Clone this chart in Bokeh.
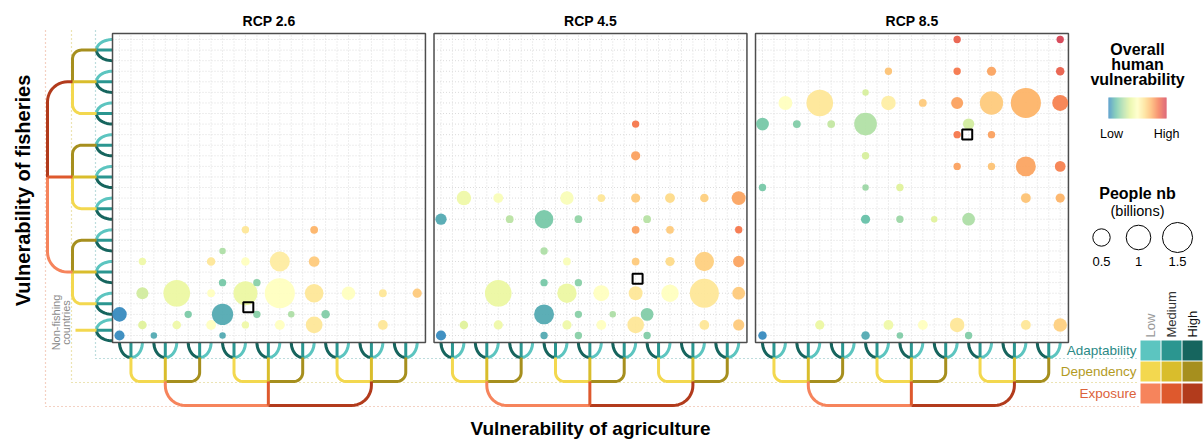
import numpy as np
from bokeh.plotting import figure
from bokeh.models import Range1d, Label, ColumnDataSource
from bokeh.transform import linear_cmap
from bokeh.embed import file_html
from bokeh.resources import INLINE

# ---------------- data ----------------
scenarios = ["RCP 2.6", "RCP 4.5", "RCP 8.5"]
levels = ["Low", "Medium", "High"]
dimensions = ["Adaptability", "Dependency", "Exposure"]
size_ticks = [0.5, 1, 1.5]
size_tick_labels = ["0.5", "1", "1.5"]

# agriculture leaf (column), fisheries leaf (row), people (billions), overall vulnerability (0 low .. 1 high)
rcp26_agri = [0, 0, 2, 2, 2, 3, 5, 5, 6, 8, 8, 8, 9, 9, 9, 9, 11, 11, 11, 11, 12, 12, 14, 14, 14, 15, 17, 17, 17, 17, 18, 20, 23, 23, 26]
rcp26_fish = [2, 0, 7, 4, 1, 0, 4, 1, 2, 7, 4, 1, 8, 5, 2, 0, 10, 7, 4, 1, 5, 2, 7, 4, 1, 2, 10, 7, 4, 1, 2, 4, 4, 1, 4]
rcp26_people = [0.35, 0.17, 0.09, 0.24, 0.12, 0.07, 1.17, 0.12, 0.09, 0.12, 0.10, 0.16, 0.07, 0.09, 0.75, 0.07, 0.09, 0.12, 0.95, 0.09,
                0.09, 0.09, 0.66, 1.50, 0.16, 0.07, 0.10, 0.19, 0.57, 0.46, 0.12, 0.30, 0.10, 0.16, 0.14]
rcp26_vuln = [0.0, 0.0, 0.42, 0.33, 0.36, 0.07, 0.40, 0.42, 0.16, 0.60, 0.50, 0.50, 0.25, 0.15, 0.07, 0.07, 0.60, 0.50, 0.40, 0.42,
              0.18, 0.18, 0.58, 0.50, 0.50, 0.25, 0.74, 0.68, 0.60, 0.60, 0.17, 0.50, 0.60, 0.60, 0.68]

rcp45_agri = [0, 0, 2, 2, 5, 5, 5, 6, 9, 9, 9, 9, 9, 11, 11, 11, 11, 12, 12, 12, 12, 14, 14, 14, 15, 17, 17, 17, 17, 17, 17, 17,
              18, 18, 18, 20, 20, 20, 20, 23, 23, 23, 23, 26, 26, 26, 26, 26]
rcp45_fish = [11, 0, 13, 1, 13, 4, 1, 11, 11, 8, 5, 2, 0, 13, 7, 4, 1, 11, 5, 2, 0, 13, 4, 1, 2, 20, 17, 13, 10, 7, 4, 1,
              11, 2, 0, 13, 10, 7, 4, 13, 7, 4, 1, 13, 10, 7, 4, 1]
rcp45_people = [0.21, 0.17, 0.35, 0.12, 0.16, 1.17, 0.14, 0.10, 0.57, 0.09, 0.09, 0.66, 0.09, 0.30, 0.10, 0.62, 0.14, 0.10, 0.09, 0.09,
                0.09, 0.10, 0.42, 0.16, 0.07, 0.09, 0.14, 0.14, 0.10, 0.10, 0.32, 0.46, 0.10, 0.27, 0.09, 0.16, 0.10, 0.14, 0.50, 0.12,
                0.62, 1.40, 0.16, 0.32, 0.09, 0.21, 0.27, 0.21]
rcp45_vuln = [0.07, 0.0, 0.42, 0.36, 0.47, 0.40, 0.42, 0.28, 0.15, 0.25, 0.15, 0.07, 0.07, 0.47, 0.47, 0.40, 0.42, 0.20, 0.18, 0.18,
              0.18, 0.60, 0.50, 0.50, 0.25, 0.86, 0.78, 0.68, 0.78, 0.68, 0.60, 0.60, 0.27, 0.17, 0.17, 0.64, 0.68, 0.64, 0.50, 0.67,
              0.67, 0.60, 0.60, 0.77, 0.86, 0.77, 0.68, 0.68]

rcp85_agri = [17, 26, 11, 17, 20, 26, 9, 2, 5, 11, 14, 17, 20, 23, 26, 0, 3, 6, 9, 18, 17, 20, 9, 17, 20, 23, 26, 0, 9, 12,
              23, 26, 9, 12, 15, 18, 5, 11, 14, 17, 23, 26, 0, 9, 12, 18]
rcp85_fish = [28, 28, 25, 25, 25, 25, 23, 22, 22, 22, 22, 22, 22, 22, 22, 20, 20, 20, 20, 20, 19, 19, 17, 16, 16, 16, 16, 14, 14, 14,
              13, 13, 11, 11, 11, 11, 1, 1, 1, 1, 1, 1, 0, 0, 0, 0]
rcp85_people = [0.09, 0.09, 0.09, 0.09, 0.14, 0.12, 0.07, 0.32, 1.17, 0.35, 0.10, 0.24, 0.90, 1.50, 0.42, 0.27, 0.10, 0.10, 0.85, 0.21,
                0.09, 0.09, 0.09, 0.09, 0.09, 0.66, 0.19, 0.09, 0.07, 0.09, 0.16, 0.14, 0.14, 0.09, 0.07, 0.27, 0.14, 0.16, 0.16, 0.35,
                0.16, 0.30, 0.12, 0.12, 0.07, 0.09]
rcp85_vuln = [0.92, 1.0, 0.70, 0.86, 0.77, 0.92, 0.34, 0.50, 0.60, 0.57, 0.68, 0.78, 0.68, 0.74, 0.84, 0.15, 0.17, 0.30, 0.26, 0.33,
              0.86, 0.78, 0.34, 0.78, 0.70, 0.77, 0.84, 0.15, 0.22, 0.36, 0.70, 0.74, 0.12, 0.22, 0.36, 0.25, 0.40, 0.42, 0.50, 0.60,
              0.60, 0.67, 0.0, 0.07, 0.17, 0.17]

highlight_agri = [11.25, 17.17, 17.88]
highlight_fish = [2.68, 5.36, 19.02]

panels = [(rcp26_agri, rcp26_fish, rcp26_people, rcp26_vuln),
          (rcp45_agri, rcp45_fish, rcp45_people, rcp45_vuln),
          (rcp85_agri, rcp85_fish, rcp85_people, rcp85_vuln)]

# ---------------- styles ----------------
FONT = "Liberation Sans"
ADAPT = ["#5cc5c0", "#2b9690", "#16655e"]   # low, medium, high
DEPEND = ["#f3d84f", "#d9bd2c", "#a68f1e"]
EXPO = ["#f6845c", "#de592d", "#b23b1c"]
anchors = ["#3288bd", "#66c2a5", "#abdda4", "#e6f598", "#ffffbf", "#fee08b", "#fdae61", "#f46d43", "#d53e4f"]


def hex2rgb(h):
    return np.array([int(h[i:i + 2], 16) for i in (1, 3, 5)], float)


A = np.array([hex2rgb(c) for c in anchors])
pal = []
for tt in np.linspace(0, len(anchors) - 1, 256):
    i = min(int(tt), len(anchors) - 2)
    f = tt - i
    c = A[i] * (1 - f) + A[i + 1] * f
    pal.append("#%02x%02x%02x" % tuple(int(round(v)) for v in c))

# ---------------- geometry ----------------
W, H = 1204, 439
PXX, PXY = 11.45, 10.57          # pixels per agriculture column / fisheries row
OX, OY = 119.0, 335.0            # page pixel of column 0 / row 0 (first panel)
PANEL_PX = 321.5                 # horizontal step between panels in pixels
OFF = PANEL_PX / PXX
X0 = -OX / PXX
Y0 = (OY - H) / PXY


def dx(px):
    return (np.asarray(px, float) - OX) / PXX


def dy(py):
    return (OY - np.asarray(py, float)) / PXY


def pxc(col):
    return OX + col * PXX


def pyr(row):
    return OY - row * PXY


p = figure(width=W, height=H, x_range=Range1d(X0, X0 + W / PXX), y_range=Range1d(Y0, Y0 + H / PXY),
           output_backend="svg", toolbar_location=None, x_axis_location=None, y_axis_location=None,
           min_border=0, min_border_left=0, min_border_right=0, min_border_top=0, min_border_bottom=0)
p.grid.visible = False
p.outline_line_color = None
p.background_fill_color = "white"
p.border_fill_color = "white"

FL, FR = -0.61, 26.72
FT, FB = float(dy(33)), float(dy(342))

# grid
gx, gy = [], []
for k in range(3):
    for c in range(27):
        gx.append([c + k * OFF, c + k * OFF]); gy.append([FB, FT])
    for r in range(29):
        gx.append([FL + k * OFF, FR + k * OFF]); gy.append([r, r])
p.multi_line(gx, gy, line_color="#dcdcdc", line_width=1, line_dash="1 2")

# dotted guide lines
guides = [([95, 95, 1139], [30, 358, 358], "#7fbcbc"),
          ([71, 71, 1139], [30, 382, 382], "#d9c968"),
          ([45, 45, 1139], [30, 406, 406], "#e9a488")]
for gxp, gyp, col in guides:
    p.line(dx(gxp), dy(gyp), line_color=col, line_width=1.2, line_dash="1 3")

# dendrogram paths (in page pixels, then converted)
segs = []


def add(xs, ys, col):
    segs.append((list(dx(xs)), list(dy(ys)), col))


def corner(p0, pc, p1, r, n=12):
    p0, pc, p1 = (np.array(v, float) for v in (p0, pc, p1))
    d1 = (pc - p0) / np.linalg.norm(pc - p0)
    d2 = (p1 - pc) / np.linalg.norm(p1 - pc)
    a = pc - d1 * r
    cc = a + d2 * r
    pts = [p0] + [cc - d2 * r * np.cos(t) + d1 * r * np.sin(t) for t in np.linspace(0, np.pi / 2, n)] + [p1]
    return [q[0] for q in pts], [q[1] for q in pts]


phi_a = np.linspace(0, np.pi / 2, 14)
phi_b = np.linspace(np.pi / 2, np.pi, 14)

# bottom tridents + brackets
YT, YA, YD, YE = 342, 357, 381, 405
for k in range(3):
    sh = k * PANEL_PX
    for t in range(9):
        cx = pxc(3 * t + 1) + sh
        add(cx + PXX * np.cos(phi_b), YT + (YA - YT) * np.sin(phi_b), ADAPT[2])
        add(cx + PXX * np.cos(phi_a), YT + (YA - YT) * np.sin(phi_a), ADAPT[0])
        add([cx, cx], [YT, YA], ADAPT[1])
    for g in range(3):
        x0, x1, x2 = (pxc(9 * g + j) + sh for j in (1, 4, 7))
        xs, ys = corner((x0, YA), (x0, YD), (x1, YD), 9); add(xs, ys, DEPEND[0])
        xs, ys = corner((x2, YA), (x2, YD), (x1, YD), 9); add(xs, ys, DEPEND[2])
        add([x1, x1], [YA, YD], DEPEND[1])
    xa, xb, xc = (pxc(c) + sh for c in (4, 13, 22))
    xs, ys = corner((xa, YD), (xa, YE), (xb, YE), 20); add(xs, ys, EXPO[0])
    xs, ys = corner((xc, YD), (xc, YE), (xb, YE), 20); add(xs, ys, EXPO[2])
    add([xb, xb], [YD, YE], EXPO[1])

# left tridents + brackets (first panel)
XT, XA, XD, XE = 112, 96, 72, 47
for r in [3, 6, 9, 12, 15, 18, 21, 24, 27, 0.5]:
    cy = pyr(r)
    add(XT - (XT - XA) * np.sin(phi_a), cy - PXY * np.cos(phi_a), ADAPT[0])
    add(XT - (XT - XA) * np.sin(phi_b), cy - PXY * np.cos(phi_b), ADAPT[2])
    add([XA, XT], [cy, cy], ADAPT[1])
for rt, rm, rb in [(27, 24, 21), (18, 15, 12), (9, 6, 3)]:
    xs, ys = corner((XA, pyr(rt)), (XD, pyr(rt)), (XD, pyr(rm)), 9); add(xs, ys, DEPEND[2])
    xs, ys = corner((XA, pyr(rb)), (XD, pyr(rb)), (XD, pyr(rm)), 9); add(xs, ys, DEPEND[0])
    add([XA, XD], [pyr(rm), pyr(rm)], DEPEND[1])
xs, ys = corner((XD, pyr(24)), (XE, pyr(24)), (XE, pyr(15)), 20); add(xs, ys, EXPO[2])
xs, ys = corner((XD, pyr(6)), (XE, pyr(6)), (XE, pyr(15)), 20); add(xs, ys, EXPO[0])
add([XD, XE], [pyr(15), pyr(15)], EXPO[1])
add([75, XA], [pyr(0.5), pyr(0.5)], DEPEND[0])

src_seg = ColumnDataSource(dict(xs=[s[0] for s in segs], ys=[s[1] for s in segs], c=[s[2] for s in segs]))
p.multi_line("xs", "ys", line_color="c", line_width=3, line_join="round", source=src_seg)

# panel frames
p.quad(left=[FL + k * OFF for k in range(3)], right=[FR + k * OFF for k in range(3)],
       bottom=[FB] * 3, top=[FT] * 3, fill_color=None, line_color="#4d4d4d", line_width=1.5)

# bubbles
R0 = 12.3
for k, (ag, fi, pe, vu) in enumerate(panels):
    sizes = [2 * R0 * np.sqrt(v) for v in pe]
    order = np.argsort(sizes)[::-1]
    src = ColumnDataSource(dict(x=[ag[i] + k * OFF for i in order], y=[fi[i] for i in order],
                                s=[sizes[i] for i in order], v=[vu[i] for i in order]))
    p.scatter("x", "y", size="s", source=src, fill_color=linear_cmap("v", pal, 0, 1),
              line_color=None, fill_alpha=0.92)

p.scatter([highlight_agri[k] + k * OFF for k in range(3)], highlight_fish, marker="square", size=10,
          fill_color=None, line_color="black", line_width=2)


# texts
def lab(px, py, text, size, bold=False, color="black", align="center", angle=0.0, baseline="middle"):
    p.add_layout(Label(x=float(dx(px)), y=float(dy(py)), text=text, text_font=FONT, text_font_size=size,
                       text_font_style="bold" if bold else "normal", text_color=color, text_align=align,
                       text_baseline=baseline, angle=angle))


for k, s in enumerate(scenarios):
    lab(268.5 + k * PANEL_PX, 20, s, "14px", bold=True)
lab(22, 190, "Vulnerability of fisheries", "20px", bold=True, angle=np.pi / 2)
lab(590, 428, "Vulnerability of agriculture", "19px", bold=True)
lab(55, 322, "Non-fishing", "11px", color="#8a8a8a", angle=np.pi / 2)
lab(65, 322, "countries", "11px", color="#8a8a8a", angle=np.pi / 2)

# colour legend
for j, line in enumerate(["Overall", "human", "vulnerability"]):
    lab(1137, 49 + 15 * j, line, "16px", bold=True)
nb = 58
edges = np.linspace(1108, 1166, nb + 1)
p.quad(left=list(dx(edges[:-1])), right=list(dx(edges[1:])), bottom=[float(dy(118))] * nb, top=[float(dy(97))] * nb,
       fill_color=[pal[int(round(i * 255 / (nb - 1)))] for i in range(nb)], line_color=None)
lab(1111, 133, "Low", "12.5px")
lab(1166, 133, "High", "12.5px")

# size legend
lab(1137, 193, "People nb", "16px", bold=True)
lab(1137, 210, "(billions)", "14.5px")
size_x = [1101, 1138, 1177]
p.scatter(list(dx(size_x)), [float(dy(237))] * 3, size=[2 * R0 * np.sqrt(v) for v in size_ticks],
          fill_color=None, line_color="black", line_width=1)
for xx, t in zip(size_x, size_tick_labels):
    lab(xx, 261, t, "13px")

# dimension legend
dim_colors = [ADAPT, DEPEND, EXPO]
label_colors = ["#2b8a86", "#b39b1f", "#dc623a"]
row_tops = [340, 361, 383]
col_lefts = [1140, 1161, 1182]
qa = dict(left=[], right=[], top=[], bottom=[], c=[])
for i, (dname, cols) in enumerate(zip(dimensions, dim_colors)):
    lab(1136, row_tops[i] + 10, dname, "13.5px", color=label_colors[i], align="right")
    for j in range(3):
        qa["left"].append(float(dx(col_lefts[j]))); qa["right"].append(float(dx(col_lefts[j] + 20)))
        qa["top"].append(float(dy(row_tops[i]))); qa["bottom"].append(float(dy(row_tops[i] + 20)))
        qa["c"].append(cols[j])
p.quad(left="left", right="right", top="top", bottom="bottom", fill_color="c", line_color=None,
       source=ColumnDataSource(qa))
for j, (lv, colr) in enumerate(zip(levels, ["#999999", "#333333", "#111111"])):
    lab(col_lefts[j] + 10, 337, lv, "13px", color=colr, align="left", angle=np.pi / 2)

open("out.html", "w").write(file_html(p, INLINE))
